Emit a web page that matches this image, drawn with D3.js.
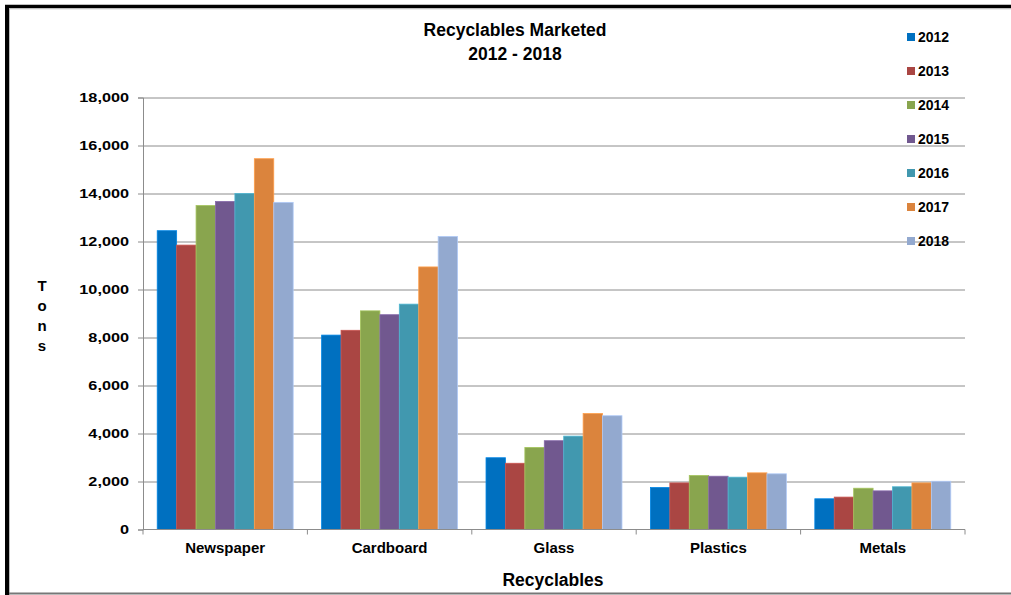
<!DOCTYPE html>
<html>
<head>
<meta charset="utf-8">
<script src="https://cdn.jsdelivr.net/npm/d3@7"></script>
<style>
  body { margin: 0; background: #fff; }
  text { font-family: "Liberation Sans", Arial, sans-serif; font-weight: bold; fill: #000; }
</style>
</head>
<body>
<div id="chart"></div>
<script>
const width = 1011;
const height = 595;
const margin = { left: 143, right: 46, top: 97.5, bottom: 65.5 };
const plot_w = width - margin.left - margin.right;
const plot_h = height - margin.top - margin.bottom;

// data
const categories = ['Newspaper', 'Cardboard', 'Glass', 'Plastics', 'Metals'];
const years = ['2012', '2013', '2014', '2015', '2016', '2017', '2018'];
const tons_2012 = [12450, 8100, 2990, 1750, 1280];
const tons_2013 = [11850, 8300, 2760, 1940, 1350];
const tons_2014 = [13500, 9110, 3420, 2250, 1720];
const tons_2015 = [13670, 8950, 3700, 2220, 1610];
const tons_2016 = [14000, 9390, 3890, 2180, 1780];
const tons_2017 = [15450, 10940, 4830, 2360, 1940];
const tons_2018 = [13630, 12210, 4740, 2320, 2010];
const y_ticks = [0, 2000, 4000, 6000, 8000, 10000, 12000, 14000, 16000, 18000];
const colors = ['#0070C0', '#AA4643', '#89A54E', '#71588F', '#4198AF', '#DB843D', '#93A9CF'];

const series = [tons_2012, tons_2013, tons_2014, tons_2015, tons_2016, tons_2017, tons_2018];
let cells = [];
categories.forEach((c, ci) => {
  years.forEach((yr, yi) => {
    cells.push({ category: c, year: yr, value: series[yi][ci] });
  });
});

const x_scale = d3.scaleBand()
  .domain(categories)
  .range([0, plot_w])
  .paddingInner(0.173)
  .paddingOuter(0.0865);
const x_inner = d3.scaleBand()
  .domain(years)
  .range([0, x_scale.bandwidth()]);
const y_scale = d3.scaleLinear()
  .domain([0, 18000])
  .range([plot_h, 0]);
const color_scale = d3.scaleOrdinal().domain(years).range(colors);

const root = d3.select('#chart')
  .append('svg')
    .attr('width', width)
    .attr('height', height);

// frame
root.append('line').attr('x1', 7).attr('x2', 7).attr('y1', 5).attr('y2', height)
  .attr('stroke', '#000').attr('stroke-width', 4);
root.append('line').attr('x1', 5).attr('x2', width).attr('y1', 6.5).attr('y2', 6.5)
  .attr('stroke', '#000').attr('stroke-width', 3.5);
root.append('line').attr('x1', 9.5).attr('x2', 9.5).attr('y1', 8).attr('y2', height)
  .attr('stroke', '#bbb').attr('stroke-width', 1);
root.append('line').attr('x1', 9).attr('x2', width).attr('y1', 8.8).attr('y2', 8.8)
  .attr('stroke', '#bbb').attr('stroke-width', 1);
root.append('line').attr('x1', 9).attr('x2', width).attr('y1', 593.5).attr('y2', 593.5)
  .attr('stroke', '#777').attr('stroke-width', 2);

const svg = root.append('g')
  .attr('transform', 'translate(' + margin.left + ',' + margin.top + ')');

// gridlines
svg.selectAll('.grid')
    .data(y_ticks.slice(1))
  .join('line')
    .attr('class', 'grid')
    .attr('x1', 0)
    .attr('x2', plot_w)
    .attr('y1', d => Math.round(y_scale(d)) + 0.5)
    .attr('y2', d => Math.round(y_scale(d)) + 0.5)
    .attr('stroke', '#8c8c8c')
    .attr('stroke-width', 1);

// bars
svg.selectAll('rect.cell')
    .data(cells)
  .join('rect')
    .attr('class', 'cell')
    .attr('x', d => x_scale(d.category) + x_inner(d.year))
    .attr('y', d => y_scale(d.value))
    .attr('width', x_inner.bandwidth())
    .attr('height', d => plot_h - y_scale(d.value))
    .attr('fill', d => color_scale(d.year))
    .attr('stroke', d => d3.color(color_scale(d.year)).brighter(0.5))
    .attr('stroke-width', 0.8);

// y axis
const y_axis = svg.append('g')
  .call(d3.axisLeft(y_scale).tickValues(y_ticks).tickSize(5).tickPadding(9).tickFormat(d3.format(',')));
y_axis.select('.domain').attr('stroke', '#8c8c8c');
y_axis.selectAll('.tick line').attr('stroke', '#8c8c8c');
y_axis.selectAll('.tick text')
  .attr('font-size', 13)
  .attr('font-family', null)
  .attr('transform', 'scale(1.25,1)')
  .attr('x', -14 / 1.25);

// x axis: ticks on category boundaries
const x_axis = svg.append('g')
  .attr('transform', 'translate(0,' + plot_h + ')');
x_axis.append('line')
  .attr('x1', 0).attr('x2', plot_w)
  .attr('stroke', '#8c8c8c');
x_axis.selectAll('.bound')
    .data(d3.range(categories.length + 1))
  .join('line')
    .attr('class', 'bound')
    .attr('x1', i => i * x_scale.step())
    .attr('x2', i => i * x_scale.step())
    .attr('y1', 0).attr('y2', 5)
    .attr('stroke', '#8c8c8c');
x_axis.selectAll('.cat')
    .data(categories)
  .join('text')
    .attr('class', 'cat')
    .attr('x', d => x_scale(d) + x_scale.bandwidth() / 2)
    .attr('y', 23)
    .attr('text-anchor', 'middle')
    .attr('font-size', 15)
    .text(d => d);

// titles
root.append('text')
  .attr('x', 515).attr('y', 36)
  .attr('text-anchor', 'middle')
  .attr('font-size', 17.5)
  .text('Recyclables Marketed');
root.append('text')
  .attr('x', 515).attr('y', 60)
  .attr('text-anchor', 'middle')
  .attr('font-size', 17.5)
  .text('2012 - 2018');
root.append('text')
  .attr('x', 553).attr('y', 586)
  .attr('text-anchor', 'middle')
  .attr('font-size', 17.5)
  .text('Recyclables');
root.append('text')
  .attr('x', 42).attr('y', 291)
  .attr('text-anchor', 'middle')
  .attr('font-size', 15)
  .selectAll('tspan')
    .data('Tons'.split(''))
  .join('tspan')
    .attr('x', 42)
    .attr('dy', (d, i) => i === 0 ? 0 : 20)
    .text(d => d);

// legend
const legend = root.append('g')
  .selectAll('g')
    .data(years)
  .join('g')
    .attr('transform', (d, i) => 'translate(907,' + (33 + i * 34) + ')');
legend.append('rect')
  .attr('width', 8).attr('height', 8)
  .attr('fill', d => color_scale(d));
legend.append('text')
  .attr('x', 11).attr('y', 9)
  .attr('font-size', 14)
  .text(d => d);
</script>
</body>
</html>
